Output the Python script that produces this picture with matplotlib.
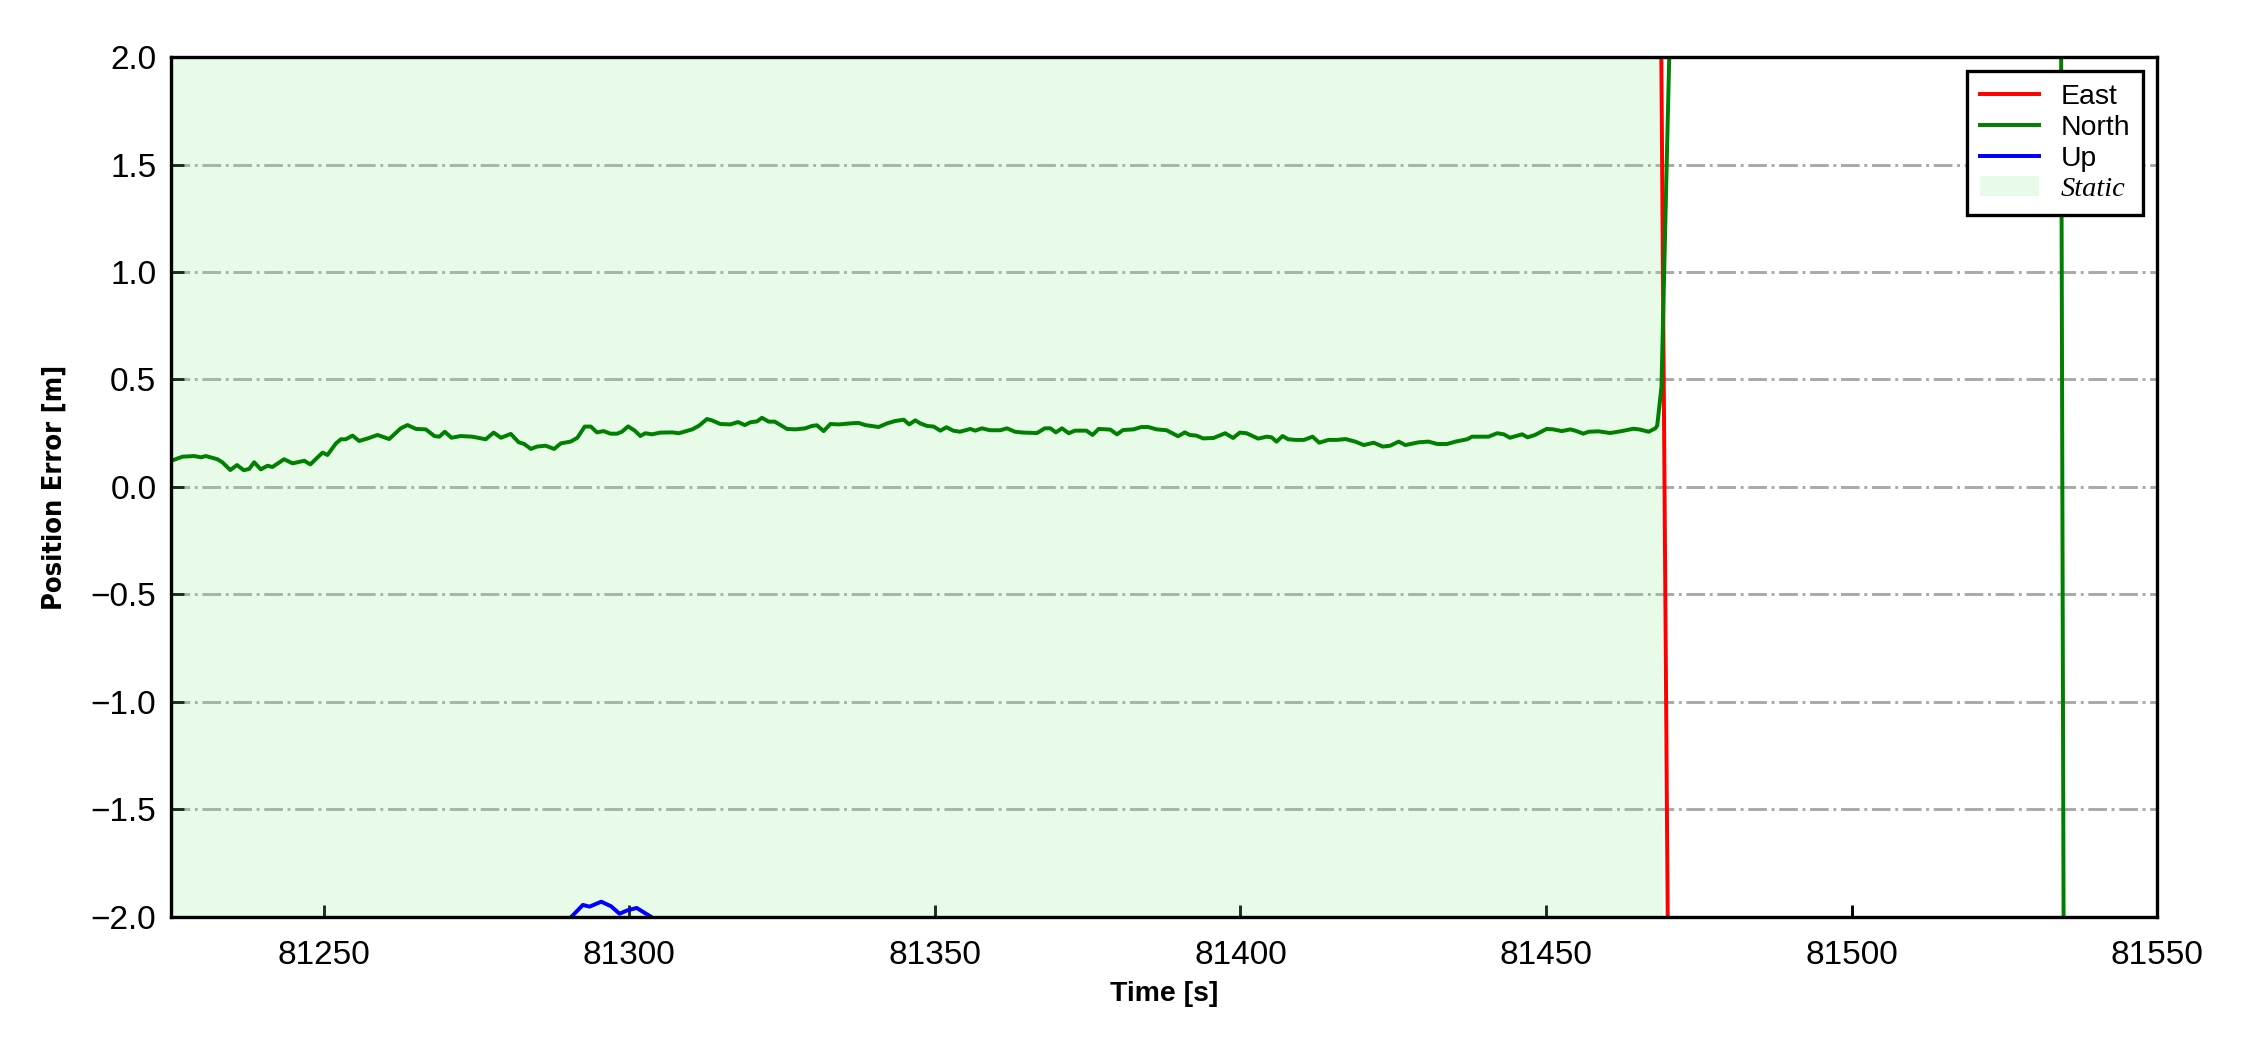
import matplotlib
matplotlib.use('Agg')
import matplotlib.pyplot as plt
from matplotlib import font_manager

plt.rcParams['font.family'] = ['Liberation Sans', 'DejaVu Sans']

north_t = [81225.0, 81226.1, 81226.9, 81228.8, 81229.9, 81230.7, 81232.6, 81233.4, 81234.7, 81235.8,
           81236.9, 81237.8, 81238.6, 81239.7, 81240.8, 81241.6, 81243.5, 81244.9, 81246.8, 81247.8,
           81249.8, 81250.6, 81252.0, 81252.8, 81253.6, 81254.7, 81255.8, 81257.2, 81258.8, 81260.7,
           81262.6, 81263.7, 81265.1, 81266.7, 81268.1, 81268.9, 81269.8, 81270.9, 81272.4, 81274.3,
           81276.5, 81277.8, 81279.0, 81280.6, 81281.9, 81282.8, 81283.9, 81284.9,
           81286.3, 81287.7, 81288.8, 81290.4, 81291.5, 81292.7, 81293.7, 81294.7, 81295.8, 81296.9,
           81298.0, 81298.8, 81299.8, 81300.9, 81301.8, 81302.6, 81303.7, 81305.1, 81307.0, 81308.1,
           81310.3, 81311.4, 81312.7, 81313.5, 81314.9, 81316.5, 81317.8, 81318.9, 81319.8, 81320.9,
           81321.7, 81322.8, 81323.8, 81325.8, 81327.2, 81328.8, 81329.9, 81330.7, 81331.8, 81332.9,
           81334.3, 81336.2, 81337.5, 81338.6, 81340.8, 81342.2, 81343.5, 81344.9, 81345.8, 81346.8,
           81347.6, 81348.7, 81349.8, 81350.9, 81351.9, 81353.0, 81354.1, 81355.8, 81356.6, 81357.7,
           81359.0, 81360.7, 81361.8, 81363.1, 81364.5, 81366.7, 81368.0, 81368.9, 81369.8, 81370.8,
           81371.9, 81372.9, 81374.8, 81375.8, 81376.8, 81378.7, 81379.8, 81380.8, 81382.5, 81383.8,
           81384.9, 81386.3, 81387.9, 81389.8, 81390.9, 81391.7, 81392.8, 81393.9, 81395.6, 81397.5,
           81398.8, 81399.9, 81401.0, 81402.9, 81404.3, 81405.1, 81405.9, 81406.9, 81407.8,
           81409.0, 81410.4, 81411.8, 81412.9, 81414.4, 81415.8, 81417.2, 81418.8, 81420.2, 81421.8,
           81423.3, 81424.5, 81425.9, 81427.0, 81429.2, 81430.8, 81432.2, 81433.8, 81435.2, 81437.1,
           81437.9, 81440.6, 81442.0, 81443.1, 81444.1, 81446.1, 81447.0, 81448.2, 81450.1, 81451.2,
           81452.6, 81454.0, 81455.0, 81456.1, 81457.0, 81458.6, 81460.5, 81462.4, 81464.3, 81465.4,
           81466.8, 81467.9, 81468.2, 81468.9, 81470.5, 81500.0, 81534.0, 81535.0, 81550.0]
north_v = [0.121, 0.133, 0.141, 0.144, 0.138, 0.144, 0.129, 0.115, 0.079, 0.102,
           0.078, 0.084, 0.115, 0.082, 0.099, 0.093, 0.129, 0.110, 0.122, 0.105,
           0.160, 0.149, 0.203, 0.222, 0.222, 0.239, 0.214, 0.226, 0.242, 0.223,
           0.273, 0.288, 0.270, 0.268, 0.237, 0.234, 0.257, 0.229, 0.237, 0.234,
           0.222, 0.253, 0.229, 0.247, 0.208, 0.200, 0.177, 0.188,
           0.192, 0.177, 0.203, 0.211, 0.229, 0.281, 0.281, 0.254, 0.260, 0.248,
           0.248, 0.257, 0.282, 0.262, 0.237, 0.250, 0.245, 0.253, 0.254, 0.250,
           0.268, 0.285, 0.316, 0.310, 0.293, 0.291, 0.302, 0.288, 0.301, 0.305,
           0.322, 0.304, 0.304, 0.270, 0.268, 0.273, 0.284, 0.287, 0.260, 0.293,
           0.291, 0.296, 0.298, 0.288, 0.279, 0.296, 0.307, 0.313, 0.291, 0.310,
           0.296, 0.284, 0.281, 0.262, 0.278, 0.262, 0.257, 0.270, 0.262, 0.273,
           0.264, 0.264, 0.273, 0.257, 0.253, 0.251, 0.273, 0.273, 0.254, 0.273,
           0.250, 0.262, 0.262, 0.242, 0.270, 0.267, 0.245, 0.265, 0.268, 0.279,
           0.279, 0.268, 0.264, 0.236, 0.254, 0.242, 0.239, 0.226, 0.228, 0.250,
           0.228, 0.253, 0.250, 0.225, 0.234, 0.231, 0.211, 0.237, 0.222,
           0.219, 0.219, 0.234, 0.206, 0.219, 0.219, 0.223, 0.211, 0.195, 0.206,
           0.188, 0.192, 0.211, 0.195, 0.208, 0.211, 0.200, 0.200, 0.211, 0.222,
           0.234, 0.234, 0.250, 0.245, 0.229, 0.245, 0.231, 0.242, 0.270, 0.268,
           0.260, 0.268, 0.260, 0.248, 0.257, 0.259, 0.251, 0.260, 0.271, 0.267,
           0.257, 0.273, 0.285, 0.465, 2.4, 4.0, 5.0, -5.0, -6.0]

# East error (m): off-scale above during static, off-scale below after
east_t = [81225.0, 81468.8, 81470.0, 81550.0]
east_v = [2.6, 2.3, -2.3, -3.0]

# Up error (m): only a short hump reaches above -2
up_t = [81225.0, 81288.0, 81290.5, 81292.4, 81293.5, 81295.4, 81297.0, 81298.4, 81299.6,
        81301.2, 81303.6, 81306.0, 81550.0]
up_v = [-2.5, -2.1, -2.0, -1.944, -1.952, -1.929, -1.95, -1.985, -1.97,
        -1.958, -2.0, -2.1, -2.5]

static_start, static_end = 81225.0, 81469.2


def narrow_bold(size):
    # the y label in the original is a narrow bold face; use one if the system has it
    for f in font_manager.fontManager.ttflist:
        fn = f.fname.replace('-', '').replace('_', '')
        if 'SansNarrowBold.' in fn or 'SansCondensedBold.' in fn:
            return font_manager.FontProperties(fname=f.fname, size=size)
    return font_manager.FontProperties(family='Liberation Sans', weight='bold', size=size)


fig = plt.figure(figsize=(7.5, 3.5), dpi=300)
ax = fig.add_axes([0.076, 0.1267, 0.8827, 0.819])

ax.axvspan(static_start, static_end, color='lightgreen', alpha=0.2, lw=0, label='Static')
ax.plot(east_t, east_v, color='red', lw=0.95, label='East')
ax.plot(north_t, north_v, color='green', lw=0.95, label='North')
ax.plot(up_t, up_v, color='blue', lw=0.95, label='Up')

ax.set_xlim(81225, 81550)
ax.set_ylim(-2, 2)
ax.set_yticks([-2.0, -1.5, -1.0, -0.5, 0.0, 0.5, 1.0, 1.5, 2.0])
ax.yaxis.grid(True, linestyle='-.', color='darkgray', lw=0.7)
ax.set_axisbelow(True)
ax.tick_params(direction='in', labelsize=8, width=0.7, length=3)
ax.tick_params(axis='x', pad=5.5)
for s in ax.spines.values():
    s.set_linewidth(0.8)

ax.set_xlabel('Time [s]', fontsize=6.8, fontweight='bold', labelpad=2.5)
ax.set_ylabel('Position Error [m]', fontproperties=narrow_bold(6.5), labelpad=5.5)

h, l = ax.get_legend_handles_labels()
order = [1, 2, 3, 0]
leg = ax.legend([h[i] for i in order], [l[i] for i in order], loc='upper right',
                fontsize=6.8, fancybox=False, framealpha=1, edgecolor='black',
                handlelength=2.1, handletextpad=0.76, labelspacing=0.17,
                borderpad=0.45, borderaxespad=0.5)
leg.get_frame().set_linewidth(0.8)
leg.get_texts()[3].set_fontfamily(['Liberation Serif', 'DejaVu Serif'])
leg.get_texts()[3].set_fontstyle('italic')

fig.savefig('out.png', dpi=300)
